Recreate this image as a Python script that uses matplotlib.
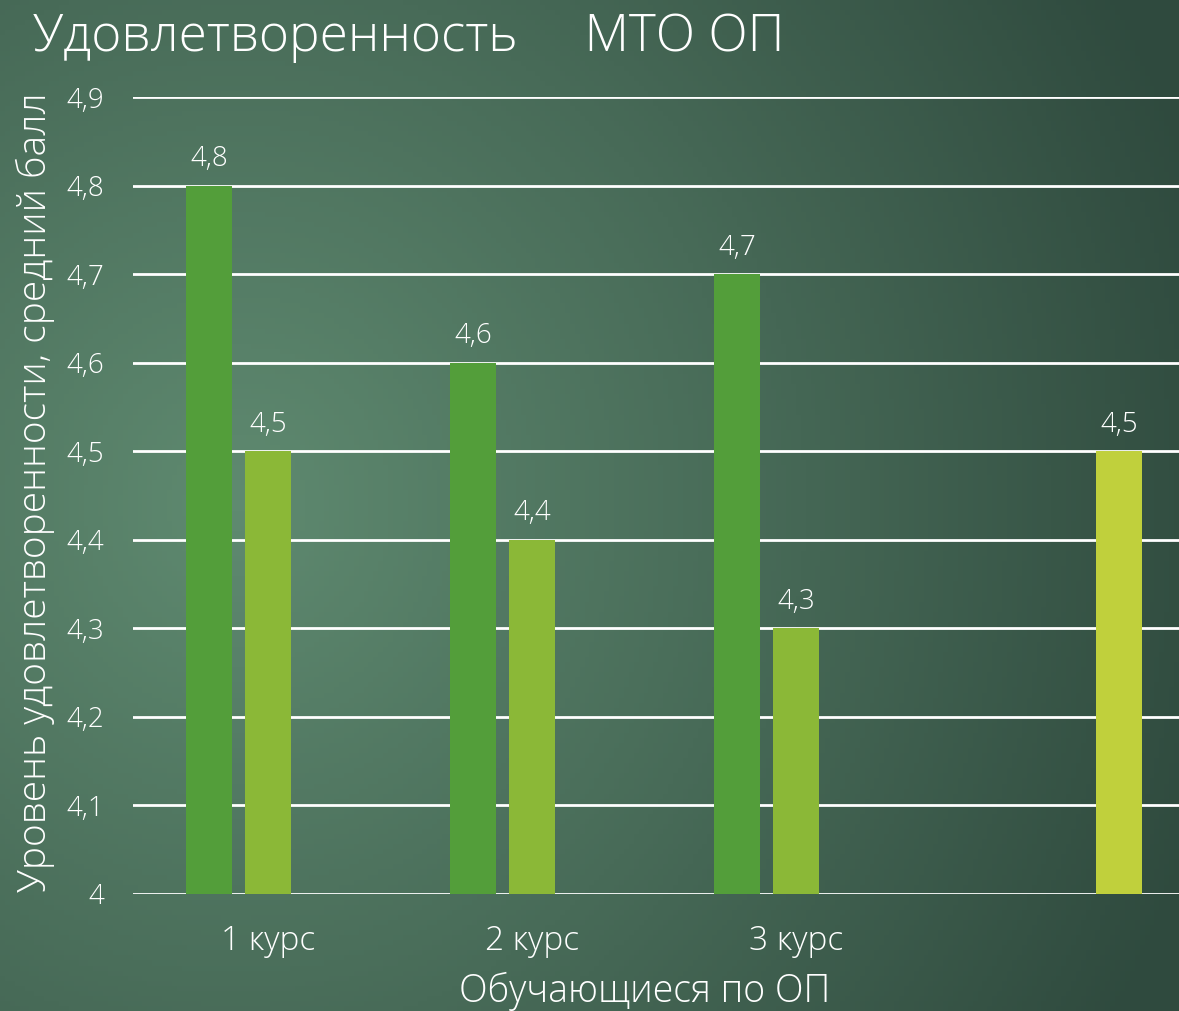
import numpy as np
import matplotlib.pyplot as plt
from matplotlib.colors import LinearSegmentedColormap

categories = ['1 курс', '2 курс', '3 курс', '']
series_1 = [4.8, 4.6, 4.7, np.nan]
series_2 = [4.5, 4.4, 4.3, np.nan]
series_3 = [np.nan, np.nan, np.nan, 4.5]
y_ticks = [4.0, 4.1, 4.2, 4.3, 4.4, 4.5, 4.6, 4.7, 4.8, 4.9]

colors = ['#539e3a', '#8bb837', '#c0d03c']
plt.rcParams['font.family'] = ['Open Sans', 'DejaVu Sans']
wt = 'light'

W, H = 1179, 1011
fig = plt.figure(figsize=(W / 100, H / 100), dpi=100)

# background gradient
bg = fig.add_axes([0, 0, 1, 1])
yy, xx = np.mgrid[0:1:200j, 0:1:240j]
d = np.sqrt(((xx - 0.2) * 1.1) ** 2 + ((yy - 0.5) * 0.9) ** 2)
d = np.clip(d / 0.95, 0, 1)
cmap = LinearSegmentedColormap.from_list('bg', ['#5f8a70', '#486b58', '#2f4a3e'])
bg.imshow(d, cmap=cmap, aspect='auto', extent=[0, 1, 0, 1], origin='lower')
bg.axis('off')

left = 133 / W
step = 264  # pixels per category
x0 = 268    # pixel centre of first category
ax = fig.add_axes([left, 117 / H, 1 - left, (894 - 97) / H])
ax.set_facecolor('none')
x = np.arange(len(categories))
bw = 46 / step
off = 59 / step
for i, (vals, c) in enumerate(zip([series_1, series_2, series_3], colors)):
    xs = x + (i - 1) * off
    ax.bar(xs, np.array(vals) - 4.0, bottom=4.0, width=bw, color=c, zorder=3)
    for xi, v in zip(xs, vals):
        if not np.isnan(v):
            ax.annotate(f'{v:.1f}'.replace('.', ','), (xi, v), xytext=(0, 9),
                        textcoords='offset points', ha='center', va='bottom',
                        color='white', fontsize=20, fontweight=wt)

lo = -(x0 - 133) / step
ax.set_xlim(lo, lo + (W - 133) / step)
ax.set_ylim(4.0, 4.9)
ax.set_yticks(y_ticks)
ax.set_yticklabels([f'{t:g}'.replace('.', ',') for t in y_ticks])
ax.set_xticks(x)
ax.set_xticklabels(categories)
ax.grid(axis='y', color='white', linewidth=2, zorder=1)
ax.set_axisbelow(True)
for s in ax.spines.values():
    s.set_visible(False)
ax.tick_params(length=0, colors='white', pad=21)
ax.tick_params(axis='y', labelsize=20)
ax.tick_params(axis='x', labelsize=24, pad=22)
for lab in ax.get_xticklabels() + ax.get_yticklabels():
    lab.set_fontweight(wt)

fig.text(645 / W, 1 - 991 / H, 'Обучающиеся по ОП', ha='center', va='center',
         color='white', fontsize=27, fontweight=wt)
fig.text(35 / W, 1 - 492 / H, 'Уровень удовлетворенности, средний балл',
         ha='center', va='center', rotation=90, color='white', fontsize=28,
         fontweight=wt)
fig.text(33 / W, 1 - 51 / H, 'Удовлетворенность     МТО ОП', ha='left',
         va='baseline', color='white', fontsize=37, fontweight=wt)

fig.savefig('out.png', dpi=100)
